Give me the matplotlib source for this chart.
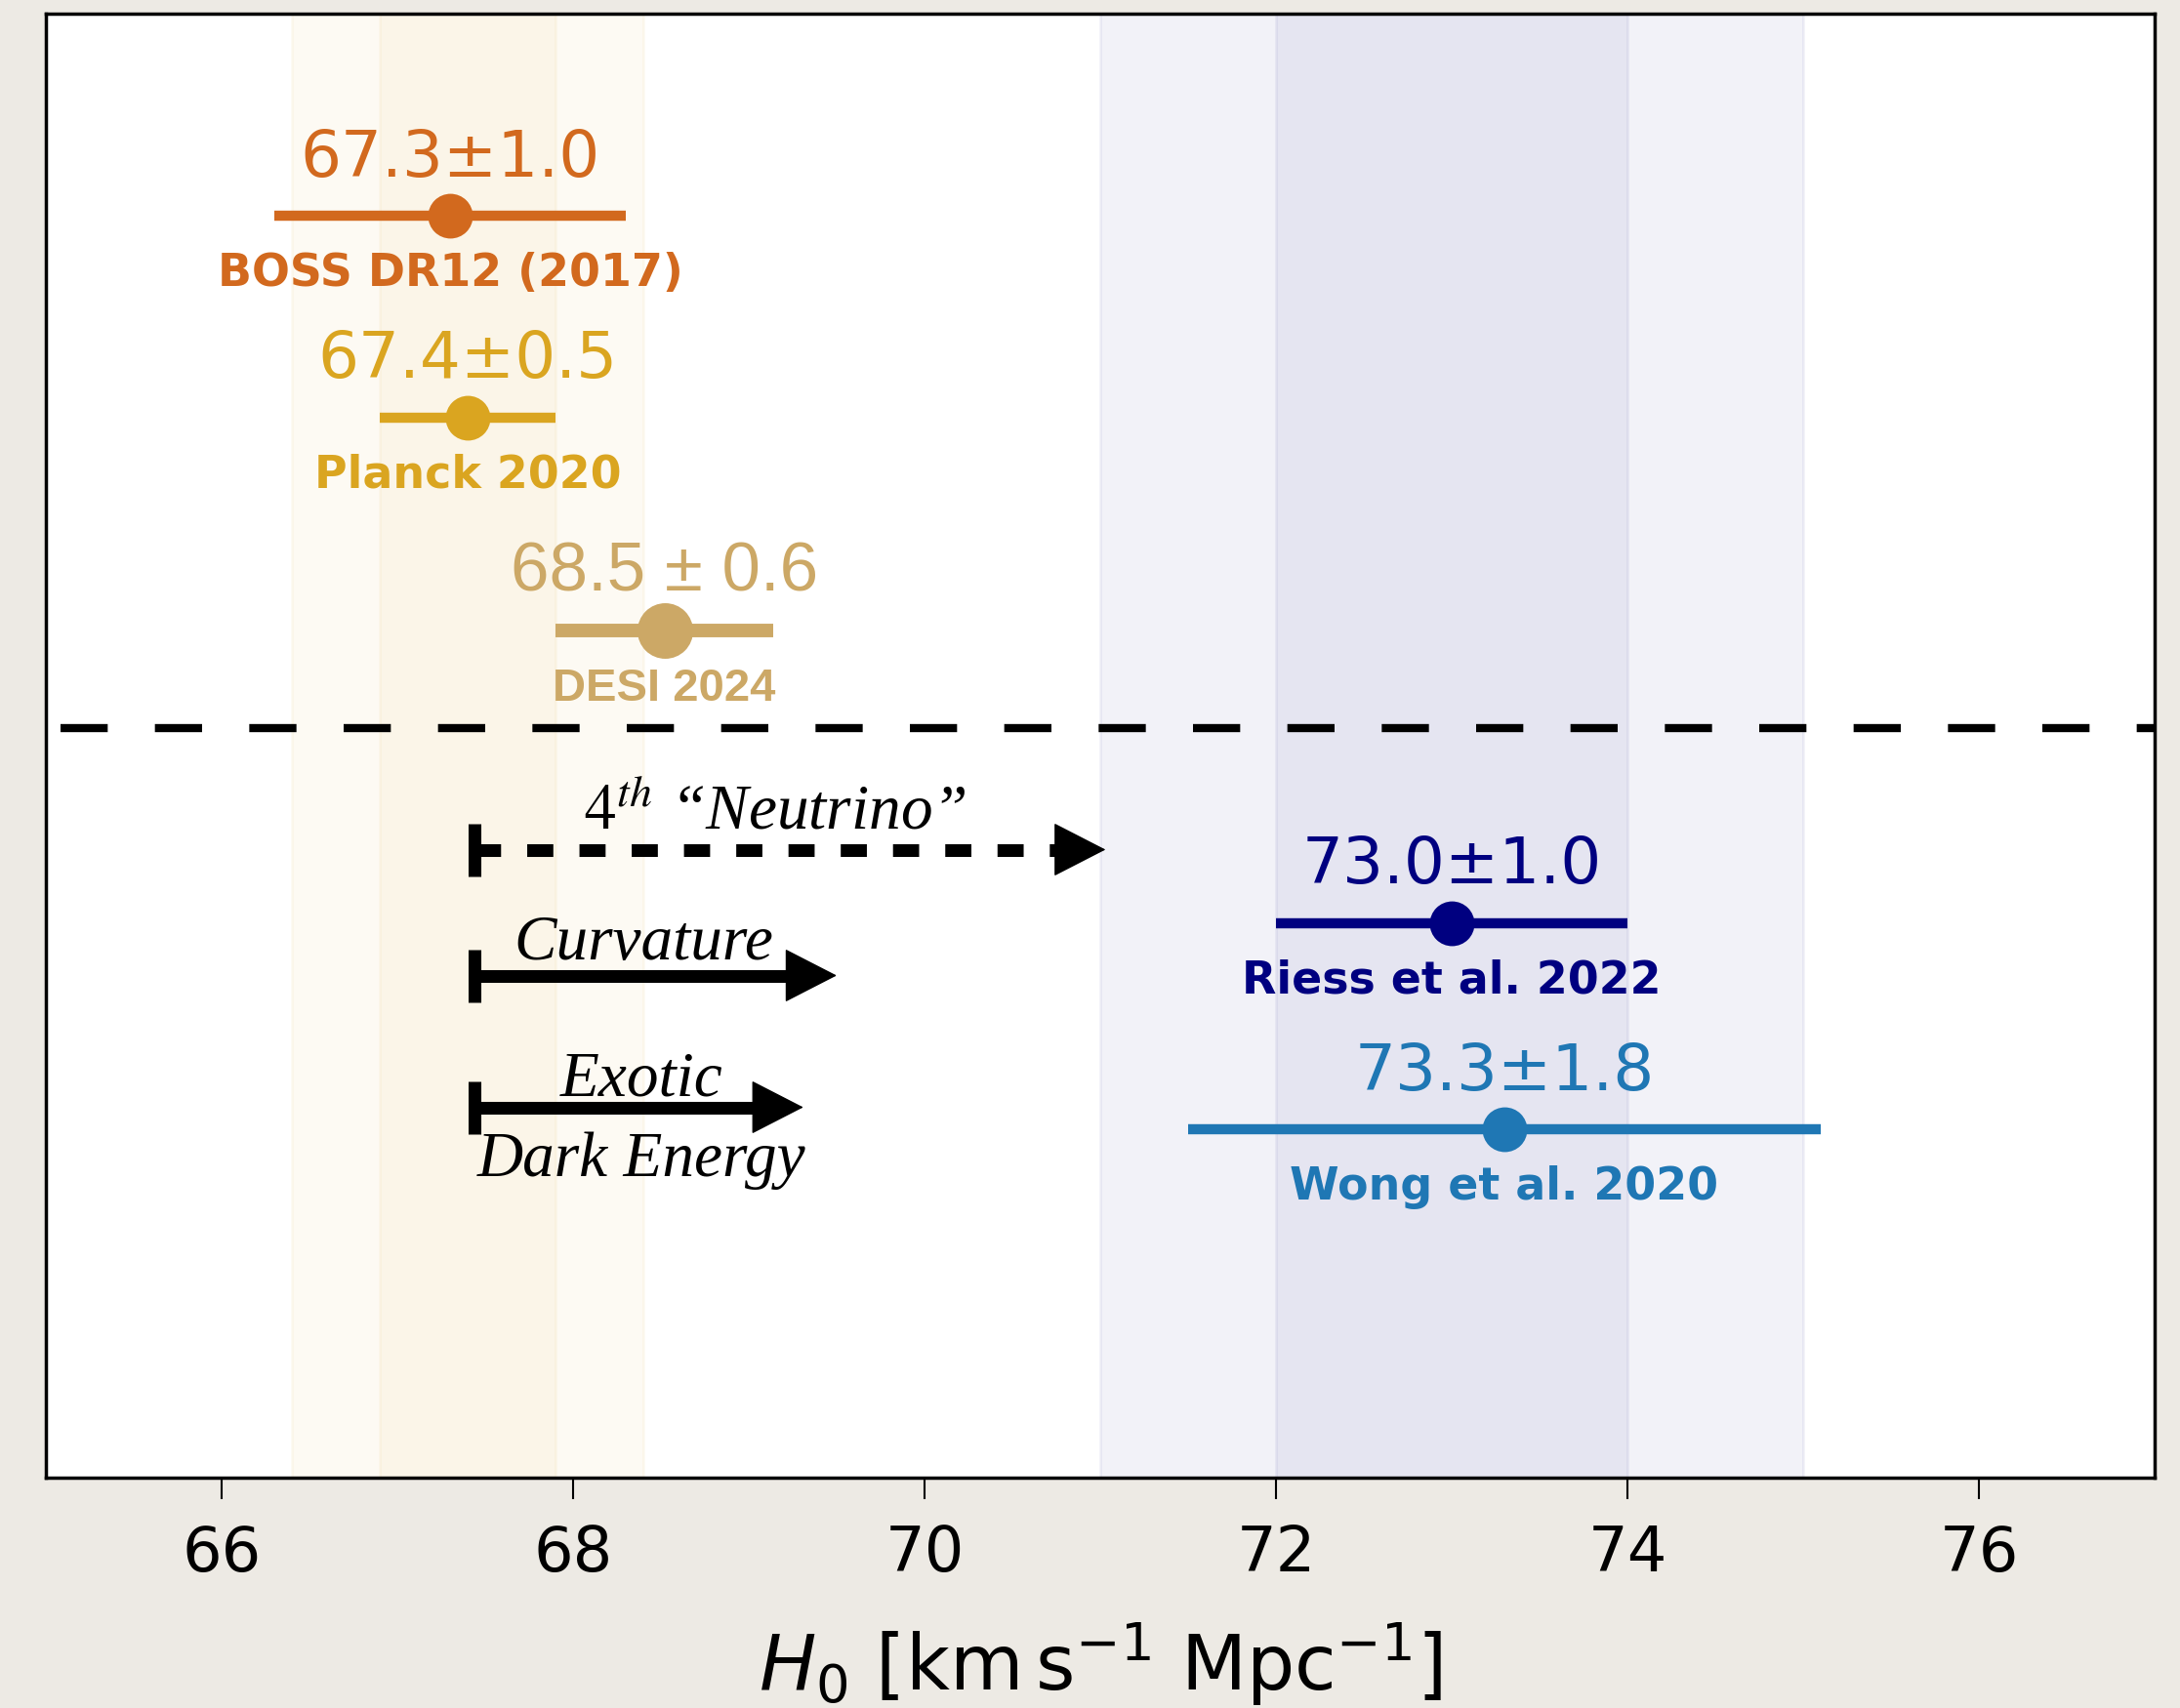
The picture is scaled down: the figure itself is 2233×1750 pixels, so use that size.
import numpy as np
import matplotlib.pyplot as plt

# H0 measurements (km/s/Mpc)
names = ['BOSS DR12 (2017)', 'Planck 2020', 'DESI 2024', 'Riess et al. 2022', 'Wong et al. 2020']
h0 = [67.3, 67.4, 68.52, 73.0, 73.3]
h0_err = [1.0, 0.5, 0.62, 1.0, 1.8]
value_labels = ['67.3±1.0', '67.4±0.5', '68.5 ± 0.6', '73.0±1.0', '73.3±1.8']
colors = ['#d2691e', '#daa520', '#cca866', '#000080', '#1f77b4']

# shaded bands (1 and 2 sigma) around Planck and Riess
band_center = [67.4, 73.0]
band_sigma = [0.5, 1.0]
band_color = ['goldenrod', 'navy']

# proposed solutions: arrows starting at the Planck value
arrow_labels = [r'$\mathit{4}^{th}$ “Neutrino”', 'Curvature', 'Exotic']
arrow_start = 67.44
arrow_end = [71.03, 69.50, 69.31]
arrow_dashed = [True, False, False]

# layout (vertical rows in axes units)
rows = [0.862, 0.724, 0.579, 0.379, 0.238]
arrow_rows = [0.429, 0.343, 0.253]
arrow_text_x = [69.15, 68.40, 68.39]
arrow_text_y = [0.443, 0.354, 0.261]
sep_y = 0.512

fig = plt.figure(figsize=(22.33, 17.5), dpi=100)
fig.patch.set_facecolor('#edeae4')
ax = fig.add_axes([47 / 2233, 1 - 1514 / 1750, 2160 / 2233, 1500 / 1750])
ax.set_facecolor('white')

# bands
for c, s, col in zip(band_center, band_sigma, band_color):
    ax.axvspan(c - 2 * s, c + 2 * s, color=col, alpha=0.05, lw=2, zorder=0)
    ax.axvspan(c - s, c + s, color=col, alpha=0.05, lw=2, zorder=0)

# measurements
for i, (name, x, err, lab, col, y) in enumerate(zip(names, h0, h0_err, value_labels, colors, rows)):
    desi = (name == 'DESI 2024')
    ax.errorbar(x, y, xerr=err, fmt='o', color=col, ms=41 if desi else 33, mew=0,
                elinewidth=10 if desi else 7.5, capsize=0, zorder=3)
    fam = 'Liberation Sans' if desi else 'DejaVu Sans'
    ax.text(x, y + 0.027, lab, color=col, ha='center', va='baseline',
            fontsize=51 if desi else 47.5, family=fam)
    ax.text(x, y - 0.048, name, color=col, ha='center', va='baseline',
            fontsize=34 if desi else 33, family=fam, fontweight='bold')

# separator between early and late universe
ax.axhline(sep_y, color='black', lw=6, linestyle=(9.8, (5.8, 5.8)), zorder=2)

# arrows
head_len = 0.28
for lab, x1, y, dashed, tx, ty in zip(arrow_labels, arrow_end, arrow_rows, arrow_dashed, arrow_text_x, arrow_text_y):
    ls = (0, (2.05, 2.05)) if dashed else '-'
    ax.plot([arrow_start, x1 - head_len * 0.7], [y, y], color='black', lw=9.4, linestyle=ls,
            solid_capstyle='butt', zorder=4)
    ax.plot([arrow_start], [y], marker='|', ms=39, mew=9.4, color='black', zorder=4)
    ax.annotate('', xy=(x1, y), xytext=(x1 - head_len, y),
                arrowprops=dict(arrowstyle='-|>,head_length=36,head_width=18.5',
                                mutation_scale=1, color='black', lw=1,
                                shrinkA=0, shrinkB=0), zorder=5)
    ax.text(tx, ty, lab, ha='center', va='baseline', fontsize=47,
            family='Liberation Serif', style='italic', math_fontfamily='stix')

ax.text(68.39, 0.206, 'Dark Energy', ha='center', va='baseline', fontsize=47,
        family='Liberation Serif', style='italic')

ax.set_xlim(65, 77)
ax.set_ylim(0, 1)
ax.set_yticks([])
ax.set_xticks([66, 68, 70, 72, 74, 76])
ax.tick_params(axis='x', labelsize=46, length=16, width=1.5, pad=18)
for sp in ax.spines.values():
    sp.set_linewidth(2.5)
ax.set_xlabel(r'$H_0$ [km$\,$s$^{-1}$ Mpc$^{-1}$]', fontsize=56, labelpad=26)

plt.savefig('out.png', dpi=100, facecolor=fig.get_facecolor())
